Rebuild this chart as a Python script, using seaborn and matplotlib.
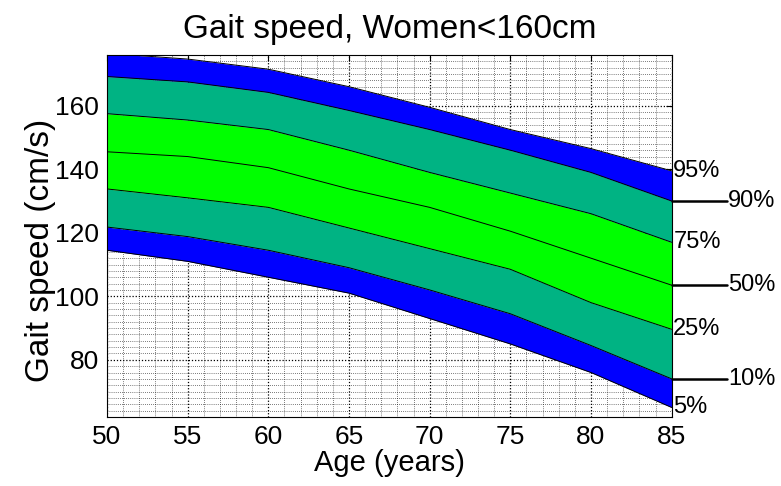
import numpy as np
import pandas as pd
import matplotlib
matplotlib.use("Agg")
import matplotlib.pyplot as plt
import seaborn as sns
from matplotlib.ticker import MultipleLocator

# percentile curves (cm/s)
ages = [50, 55, 60, 65, 70, 75, 80, 85]
p95 = [176.5, 174.7, 171.5, 166.0, 159.5, 152.5, 146.5, 139.5]
p90 = [169.2, 167.5, 164.2, 158.5, 152.5, 146.0, 139.0, 130.0]
p75 = [157.5, 155.5, 152.5, 146.0, 139.0, 132.5, 126.0, 117.0]
p50 = [145.5, 144.0, 140.5, 133.8, 128.0, 120.5, 112.0, 103.5]
p25 = [133.8, 131.0, 128.0, 121.5, 115.0, 108.5, 98.0, 89.6]
p10 = [121.8, 118.8, 114.5, 109.0, 102.0, 94.5, 84.5, 74.0]
p05 = [114.5, 111.0, 106.0, 101.0, 93.0, 85.0, 76.0, 65.0]

labels = ["95%", "90%", "75%", "50%", "25%", "10%", "5%"]
curves = [p95, p90, p75, p50, p25, p10, p05]
long_labels = ["90%", "50%", "10%"]

blue = "#0000ff"
teal = "#00b383"
green = "#00ff00"

df = pd.DataFrame({"Age": ages})
for lab, c in zip(labels, curves):
    df[lab] = c
long_df = df.melt(id_vars="Age", var_name="Percentile", value_name="Speed")

sns.set_style("white")
plt.rcParams["font.family"] = ["Liberation Sans", "DejaVu Sans"]
plt.rcParams["text.color"] = "black"
plt.rcParams["axes.labelcolor"] = "black"
plt.rcParams["xtick.color"] = "black"
plt.rcParams["ytick.color"] = "black"

fig = plt.figure(figsize=(7.81, 4.86), dpi=100)
ax = fig.add_axes([0.137, 0.142, 0.723, 0.745])

# bands
ax.fill_between(df["Age"], df["5%"], df["10%"], color=blue, lw=0, zorder=1)
ax.fill_between(df["Age"], df["10%"], df["25%"], color=teal, lw=0, zorder=1)
ax.fill_between(df["Age"], df["25%"], df["75%"], color=green, lw=0, zorder=1)
ax.fill_between(df["Age"], df["75%"], df["90%"], color=teal, lw=0, zorder=1)
ax.fill_between(df["Age"], df["90%"], df["95%"], color=blue, lw=0, zorder=1)

sns.lineplot(data=long_df, x="Age", y="Speed", units="Percentile", estimator=None,
             color="black", lw=0.7, ax=ax, zorder=2)

ax.set_xlim(50, 85)
ax.set_ylim(62, 176)
ax.xaxis.set_major_locator(MultipleLocator(5))
ax.yaxis.set_major_locator(MultipleLocator(20))
ax.xaxis.set_minor_locator(MultipleLocator(1))
ax.yaxis.set_minor_locator(MultipleLocator(2))
ax.set_axisbelow(True)
ax.grid(which="major", color="black", ls=(0, (1, 1.5)), lw=0.9)
ax.grid(which="minor", color="black", ls=(0, (1, 2)), lw=0.5)
ax.tick_params(which="major", direction="in", length=4, top=True, right=True,
               labelsize=19, pad=6)
ax.tick_params(which="minor", length=0)
for s in ax.spines.values():
    s.set_color("black")
    s.set_linewidth(0.8)

ax.set_title("Gait speed, Women<160cm", fontsize=24, pad=12)
ax.set_xlabel("Age (years)", fontsize=21, labelpad=0)
ax.set_ylabel("Gait speed (cm/s)", fontsize=24)
ax.yaxis.set_label_coords(-0.09, 0.46)

# right side percentile labels
for lab in labels:
    yv = df[lab].iloc[-1]
    if lab in long_labels:
        ax.plot([85, 88.4], [yv, yv], color="black", lw=1.8, clip_on=False, zorder=3)
        ax.text(88.5, yv, lab, fontsize=17, va="center", ha="left")
    else:
        ax.text(85.1, yv, lab, fontsize=17, va="center", ha="left")

fig.savefig("out.png", dpi=100)
